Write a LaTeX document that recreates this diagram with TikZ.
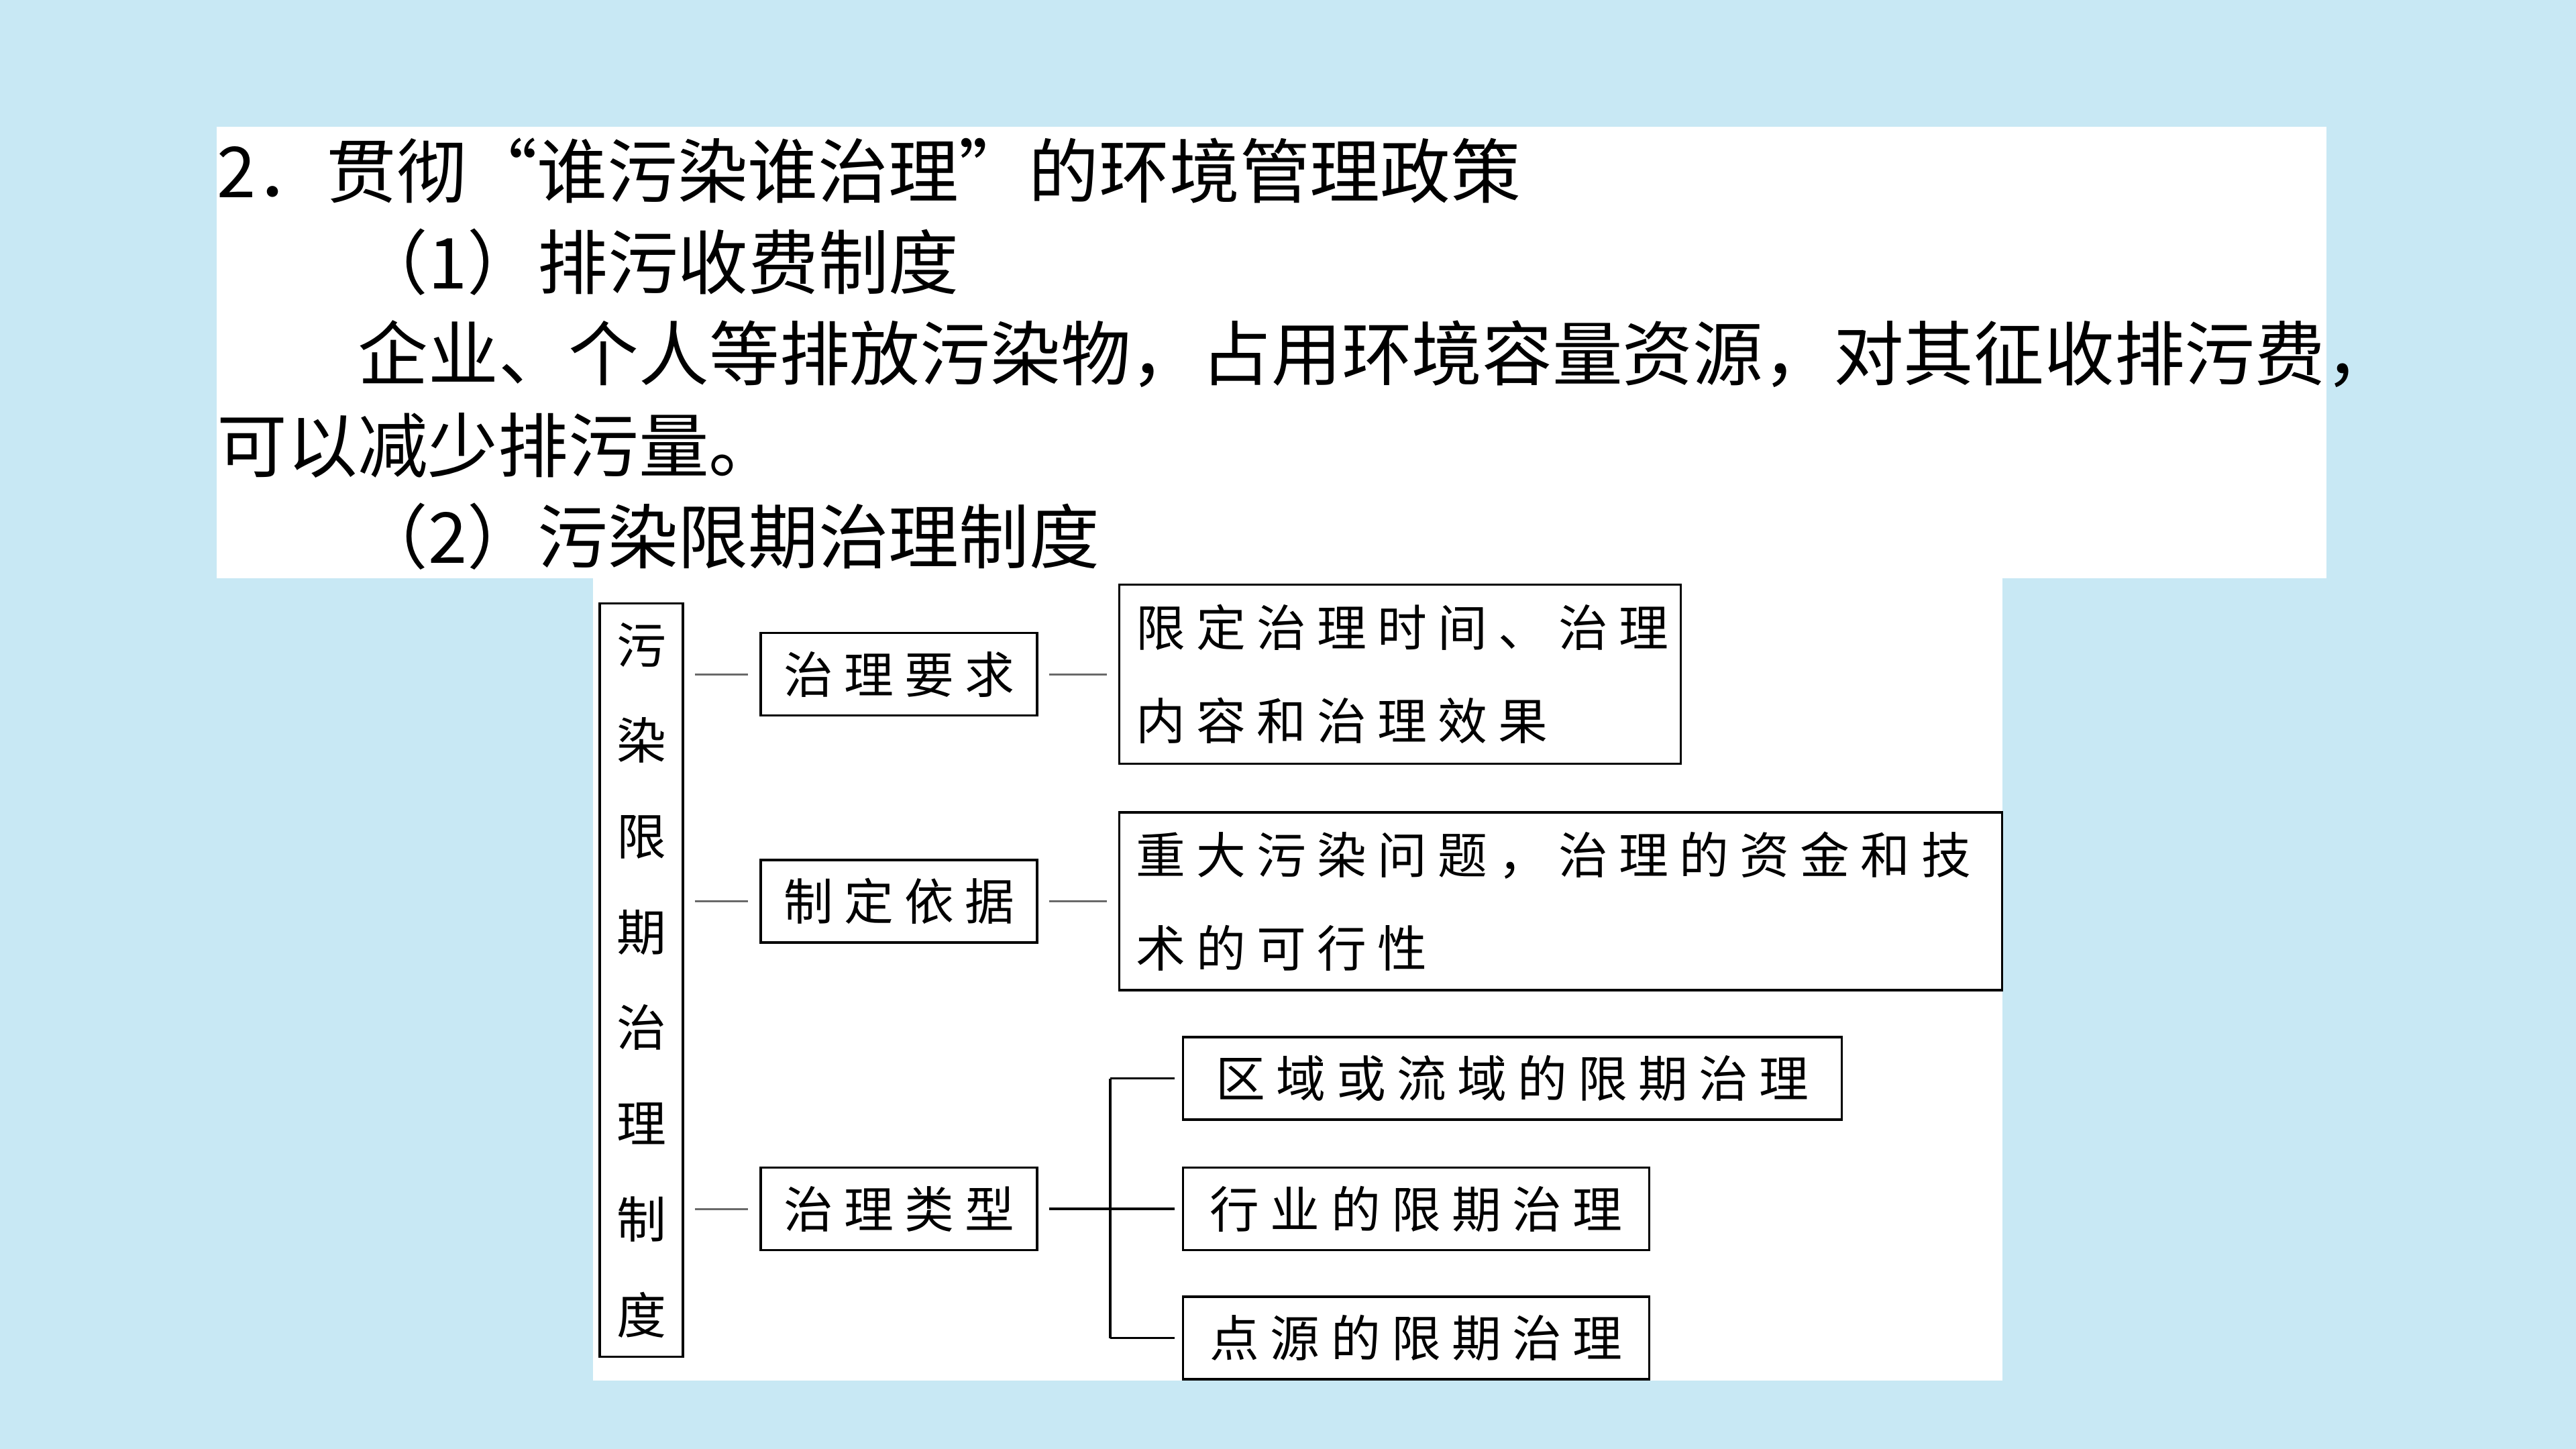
\documentclass[tikz,border=0pt]{standalone}
\usepackage{fontspec}
\setmainfont{Noto Sans CJK SC}
\newfontfamily\cjkspaced[LetterSpace=22]{Noto Sans CJK SC}
\usetikzlibrary{positioning}

\definecolor{slidebg}{RGB}{200,232,244}
\definecolor{linkgray}{RGB}{105,105,105}

\begin{document}
\begin{tikzpicture}[node distance=1cm,inner sep=0pt]
        \tikzstyle{line}=[anchor=base west, font=\fontsize{29.8pt}{36pt}\selectfont]
        \tikzstyle{box}=[draw, line width=0.035cm, font=\cjkspaced\fontsize{21pt}{39.5pt}\selectfont]
        \tikzstyle{midbox}=[box, minimum width=4.12cm, minimum height=1.23cm]
        \tikzstyle{textbox}=[box, align=left, inner xsep=0.25cm]
        \tikzstyle{typebox}=[box, minimum height=1.23cm]
        \tikzstyle{link}=[linkgray, line width=0.03cm, shorten <=0.16cm, shorten >=0.17cm]
        \tikzstyle{fork}=[black, line width=0.035cm]

        % slide and the two white panels
        \fill[slidebg] (0,0) rectangle (38.4,-21.6);
        \fill[white] (3.23,-1.89) rectangle (34.68,-8.62);
        \fill[white] (8.84,-8.62) rectangle (29.85,-20.58);
        \useasboundingbox (0,0) rectangle (38.4,-21.6);

        \node[line] (l1) at (3.23,-2.95) {2．贯彻“谁污染谁治理”的环境管理政策};
        \node[line] (l2) at (5.33,-4.31) {（1）排污收费制度};
        \node[line] (l3) at (5.33,-5.67) {企业、个人等排放污染物，占用环境容量资源，对其征收排污费，};
        \node[line] (l4) at (3.23,-7.03) {可以减少排污量。};
        \node[line] (l5) at (5.33,-8.39) {（2）污染限期治理制度};

        % diagram
        \node[box, font=\fontsize{21pt}{40.6pt}\selectfont, align=center,
              minimum width=1.24cm, minimum height=11.23cm] (v0) at (9.56,-14.61)
              {污\\染\\限\\期\\治\\理\\制\\度};

        \node[midbox] (m0) at (13.40,-10.05) {治理要求};
        \node[midbox] (m1) [below=2.12cm of m0] {制定依据};
        \node[midbox] (m2) [below=3.32cm of m1] {治理类型};

        \node[textbox, text width=7.87cm, minimum height=2.67cm] (r0) [right=1.19cm of m0]
              {限定治理时间、治理\\内容和治理效果};
        \node[textbox, text width=12.66cm, minimum height=2.65cm] (r1) [right=1.19cm of m1]
              {重大污染问题，治理的资金和技\\术的可行性};

        \node[typebox, minimum width=6.95cm] (k1) [right=2.14cm of m2] {行业的限期治理};
        \node[typebox, minimum width=9.82cm] (k0) [above=0.68cm of k1.north west, anchor=south west] {区域或流域的限期治理};
        \node[typebox, minimum width=6.95cm] (k2) [below=0.66cm of k1.south west, anchor=north west] {点源的限期治理};

        \coordinate[right=1.07cm of m2.east] (f0);

        \path[link]
            (v0.east |- m0) edge (m0)
            (v0.east |- m1) edge (m1)
            (v0.east |- m2) edge (m2)
            (m0) edge (r0)
            (m1) edge (r1)
        ;

        \path[fork]
            (m2)        edge [shorten <=0.16cm] (f0)
            (f0 |- k0)  edge (f0 |- k2)
            (f0 |- k0)  edge [shorten >=0.11cm] (k0)
            (f0)        edge [shorten >=0.11cm] (k1)
            (f0 |- k2)  edge [shorten >=0.11cm] (k2)
        ;
\end{tikzpicture}
\end{document}
